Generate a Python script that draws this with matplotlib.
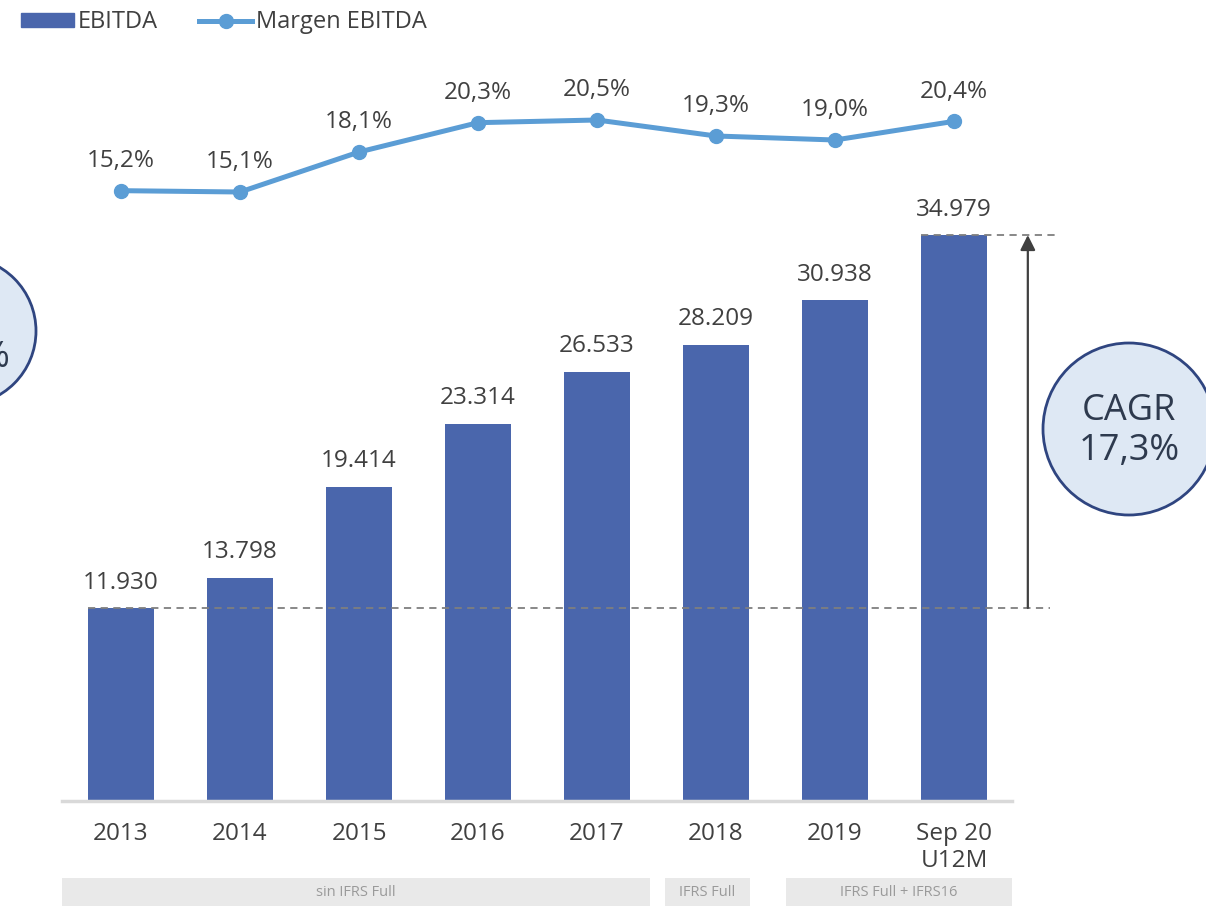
import matplotlib
matplotlib.use("Agg")
import matplotlib.pyplot as plt
from matplotlib.patches import Patch, Rectangle, Circle
from matplotlib.lines import Line2D

plt.rcParams["font.family"] = ["Open Sans", "DejaVu Sans"]

# data
categories = ["2013", "2014", "2015", "2016", "2017", "2018", "2019", "Sep 20\nU12M"]
ebitda = [11930, 13798, 19414, 23314, 26533, 28209, 30938, 34979]
ebitda_labels = ["11.930", "13.798", "19.414", "23.314", "26.533", "28.209", "30.938", "34.979"]
margin = [15.2, 15.1, 18.1, 20.3, 20.5, 19.3, 19.0, 20.4]
margin_labels = ["15,2%", "15,1%", "18,1%", "20,3%", "20,5%", "19,3%", "19,0%", "20,4%"]
cagr_text = "CAGR\n17,3%"
periods = ["sin IFRS Full", "IFRS Full", "IFRS Full + IFRS16"]

BAR = "#4A66AC"
LINE = "#5B9DD5"
TXT = "#404040"

W, H = 1206, 906
fig = plt.figure(figsize=(W / 100, H / 100), dpi=100)

# main bar axes: baseline at y=801 px, x from 62 to 1012 px
ax = fig.add_axes([62 / W, 105 / H, 950 / W, 801 / H])
x = list(range(len(categories)))
ax.bar(x, ebitda, width=0.555, color=BAR, zorder=2)
for i, (v, lab) in enumerate(zip(ebitda, ebitda_labels)):
    ax.annotate(lab, (i, v), xytext=(0, 14), textcoords="offset points",
                ha="center", va="baseline", fontsize=17.5, color=TXT)
ax.set_xlim(-0.496, 7.487)
ax.set_ylim(0, 49505)
ax.set_xticks(x)
ax.set_xticklabels(categories, fontsize=17.5, color=TXT, linespacing=1.2)
ax.tick_params(axis="x", length=0, pad=15)
ax.set_yticks([])
for s in ["top", "left", "right"]:
    ax.spines[s].set_visible(False)
ax.spines["bottom"].set_color("#d9d9d9")
ax.spines["bottom"].set_linewidth(2.5)
ax.patch.set_visible(False)

# dashed reference lines and CAGR arrow
ax.plot([-0.28, 7.81], [ebitda[0], ebitda[0]], ls=(0, (4, 3)), color="#7f7f7f",
        lw=1.3, clip_on=False, zorder=3)
ax.plot([6.72, 7.85], [ebitda[-1], ebitda[-1]], ls=(0, (4, 3)), color="#7f7f7f",
        lw=1.3, clip_on=False, zorder=3)
ax.annotate("", xy=(7.62, ebitda[-1]), xytext=(7.62, ebitda[0]),
            arrowprops=dict(arrowstyle="-|>,head_length=0.9,head_width=0.45",
                            color="#404040", lw=1.6, shrinkA=0, shrinkB=0),
            annotation_clip=False)

# margin line on its own scale
ax2 = ax.twinx()
ax2.plot(x, margin, color=LINE, lw=3.6, marker="o", markersize=10, zorder=3)
for i, (v, lab) in enumerate(zip(margin, margin_labels)):
    ax2.annotate(lab, (i, v), xytext=(0, 17), textcoords="offset points",
                 ha="center", va="baseline", fontsize=17.5, color=TXT)
ax2.set_ylim(-30.575, 29.5)
ax2.set_yticks([])
ax2.axis("off")

# legend
handles = [Patch(color=BAR), Line2D([0], [0], color=LINE, lw=3.6, marker="o", markersize=10)]
fig.legend(handles, ["EBITDA", "Margen EBITDA"], loc="upper left",
           bbox_to_anchor=(0 / W, 1 + 11 / H), ncol=2, frameon=False, fontsize=17,
           handlelength=2.25, handletextpad=0.15, columnspacing=1.75, labelcolor=TXT,
           handleheight=0.5)

# overlay in pixel coordinates for bands and circles
ov = fig.add_axes([0, 0, 1, 1])
ov.set_xlim(0, W)
ov.set_ylim(H, 0)
ov.axis("off")
bands = [(62, 650), (665, 750), (786, 1012)]
for (x0, x1), name in zip(bands, periods):
    ov.add_patch(Rectangle((x0, 878), x1 - x0, 30, color="#e9e9e9", lw=0))
    ov.text((x0 + x1) / 2, 893, name, ha="center", va="center", fontsize=10.5,
            color="#9a9a9a")

ov.add_patch(Circle((1129, 429), 86, facecolor="#DEE8F4", edgecolor="#2F4580", lw=2))
ov.text(1129, 431, cagr_text, ha="center", va="center", fontsize=26,
        color="#2E3A4E", linespacing=1.15)
ov.add_patch(Circle((-38, 331), 74, facecolor="#DEE8F4", edgecolor="#2F4580", lw=2))
ov.text(9, 358, "%", ha="right", va="center", fontsize=26, color="#2E3A4E")

fig.savefig("out.png", dpi=100)
